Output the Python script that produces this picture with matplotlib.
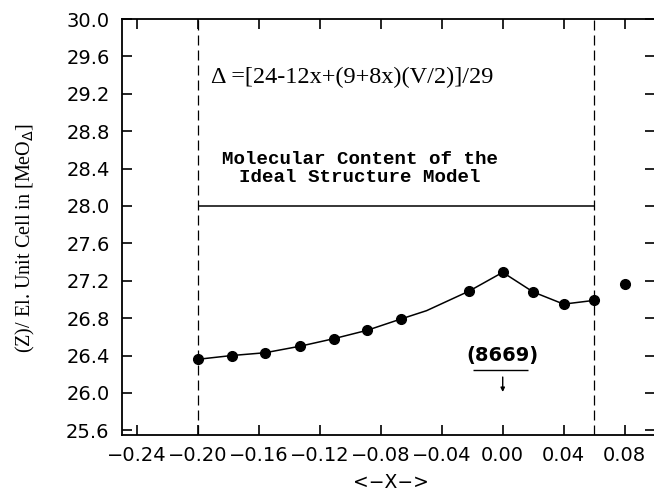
import numpy as np
import matplotlib
matplotlib.use('Agg')
import matplotlib.pyplot as plt

mark_x = [-0.200, -0.178, -0.156, -0.133, -0.111, -0.089, -0.067, -0.022, 0.000, 0.020, 0.040, 0.060]
mark_y = [26.36, 26.40, 26.43, 26.50, 26.58, 26.67, 26.79, 27.09, 27.29, 27.08, 26.95, 26.99]
# connecting curve (one extra bend without marker)
line_x = [-0.200, -0.178, -0.156, -0.133, -0.111, -0.089, -0.067, -0.050, -0.022, 0.000, 0.020, 0.040, 0.060]
line_y = [26.36, 26.40, 26.43, 26.50, 26.58, 26.67, 26.79, 26.88, 27.09, 27.29, 27.08, 26.95, 26.99]
# lone point outside the range
extra_x = [0.080]
extra_y = [27.17]
ideal_z = 28.0
range_x = [-0.20, 0.06]
x_ticks = [-0.24, -0.20, -0.16, -0.12, -0.08, -0.04, 0.00, 0.04, 0.08]
y_ticks = [25.6, 26.0, 26.4, 26.8, 27.2, 27.6, 28.0, 28.4, 28.8, 29.2, 29.6, 30.0]

fig = plt.figure(figsize=(6.54, 4.90), dpi=100)
ax = fig.add_axes([122/654, 55/490, 533/654, 416/490])

ax.plot(line_x, line_y, color='black', lw=1.1)
ax.plot(mark_x, mark_y, 'o', color='black', ms=7)
ax.plot(extra_x, extra_y, 'o', color='black', ms=7)

# limits of the homogeneity range
for xv in range_x:
    ax.axvline(xv, color='black', lw=0.9, ls=(0, (8, 4)))
ax.hlines(ideal_z, range_x[0], range_x[1], color='black', lw=1.1)

ax.text(-0.1915, 29.375, u'\u0394 =[24-12x+(9+8x)(V/2)]/29', family='Liberation Serif',
        fontsize=17.5, ha='left', va='center')
ax.text(-0.094, 28.40, 'Molecular Content of the\nIdeal Structure Model', family='Liberation Mono',
        fontweight='bold', fontsize=13.8, ha='center', va='center', multialignment='center',
        linespacing=1.1)

# phase label with arrow
ax.text(0.0, 26.40, '(8669)', fontsize=14, fontweight='bold', ha='center', va='center')
ax.hlines(26.243, -0.0197, 0.0164, color='black', lw=1.0)
ax.annotate('', xy=(0.0, 26.01), xytext=(0.0, 26.17),
            arrowprops=dict(arrowstyle='-|>', color='black', lw=1.0, mutation_scale=6,
                            shrinkA=0, shrinkB=0))

ax.set_xlim(-0.25, 0.10)
ax.set_ylim(25.55, 30.0)
ax.set_xticks(x_ticks)
ax.set_xticklabels(['%.2f' % v if v >= 0 else u'\u2212%.2f' % abs(v) for v in x_ticks])
ax.set_yticks(y_ticks)
ax.set_yticklabels(['%.1f' % v for v in y_ticks])
ax.tick_params(direction='in', length=7, width=1.2, top=True, right=True, labelsize=14)
ax.tick_params(axis='x', pad=8)
ax.tick_params(axis='y', pad=9)
for s in ax.spines.values():
    s.set_linewidth(1.3)

fig.text(25/654, 1 - 238/490, r'(Z)/ El. Unit Cell in [MeO$_{\Delta}$]', rotation=90,
         family='Liberation Serif', fontsize=14.5, ha='center', va='center')
fig.text(391/654, 1 - 482/490, u'<\u2212X\u2212>', fontsize=13.5, ha='center', va='center')

fig.savefig('out.png', dpi=100)
